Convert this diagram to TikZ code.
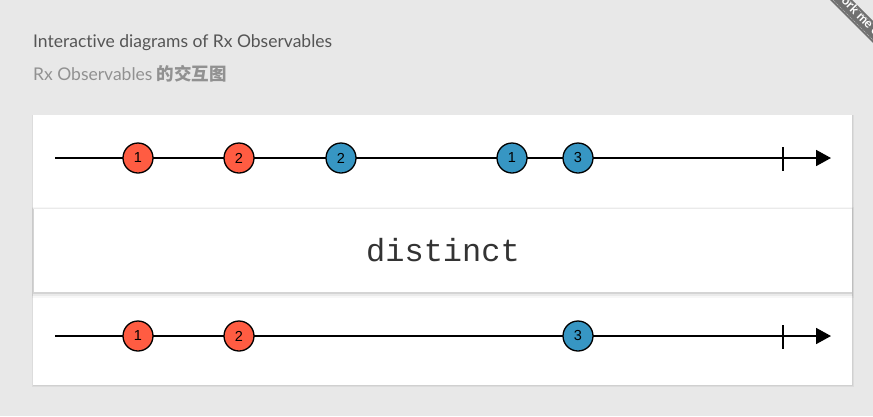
\documentclass[tikz,border=0pt]{standalone}
\usepackage{fontspec}
\setmainfont{Lato}[Ligatures=NoCommon]
\newfontfamily\cjkfont{Noto Sans CJK SC}
\newfontfamily\monofont{Liberation Mono}
\newfontfamily\marblefont{Liberation Sans}
\usetikzlibrary{arrows.meta}
\definecolor{bgc}{RGB}{232,232,232}
\definecolor{headc}{RGB}{85,85,85}
\definecolor{subc}{RGB}{145,145,145}
\definecolor{redm}{RGB}{255,92,66}
\definecolor{bluem}{RGB}{55,150,195}
\definecolor{ribbonc}{RGB}{112,112,112}
\definecolor{opc}{RGB}{51,51,51}
\begin{document}
\begin{tikzpicture}[x=1pt,y=-1pt,
  marble/.style={circle,draw=black,line width=1.3pt,minimum size=30pt,inner sep=0pt,font=\marblefont\fontsize{14.5}{14.5}\selectfont},
  redmarble/.style={marble,fill=redm},
  bluemarble/.style={marble,fill=bluem},
  axisline/.style={line width=1.8pt,-{Triangle[length=15pt,width=16pt]}},
  tickline/.style={line width=1.5pt},
  panelshadow/.style={fill=black,opacity=0.05}]
\useasboundingbox (0,0) rectangle (873,416);
\clip (0,0) rectangle (873,416);
\fill[bgc] (0,0) rectangle (873,416);

% header
\node[anchor=base west,inner sep=0pt,text=headc,font=\fontsize{17.5}{17.5}\selectfont] (title) at (33,47) {Interactive diagrams of Rx Observables};
\node[anchor=base west,inner sep=0pt,text=subc,font=\fontsize{17.5}{17.5}\selectfont] (subtitle) at (33,80) {Rx Observables {\cjkfont\bfseries 的交互图}};

% panel with shadow
\fill[panelshadow] (32,114.5) rectangle (853.5,387);
\fill[panelshadow] (32.5,115) rectangle (853,386);
\fill[white] (33,115) rectangle (852,385);

% operator box with shadow
\fill[black,opacity=0.03] (31.5,207) rectangle (853.5,297.5);
\fill[black,opacity=0.05] (32.3,207.5) rectangle (852.8,295.5);
\fill[black,opacity=0.09] (33,208.5) rectangle (852.4,294);
\fill[white] (33.5,208.8) rectangle (852,292);
\node[font=\monofont\fontsize{32}{32}\selectfont,text=opc] (op) at (443,250) {distinct};

% input stream
\coordinate (inS) at (55,158);
\coordinate (inE) at (831,158);
\draw[axisline] (inS) -- (inE);
\coordinate (inT1) at (783,147);
\coordinate (inT2) at (783,171);
\draw[tickline] (inT1) -- (inT2);
\node[redmarble] (i1) at (138,158) {1};
\node[redmarble] (i2) at (239,158) {2};
\node[bluemarble] (i3) at (341,158) {2};
\node[bluemarble] (i4) at (512,158) {1};
\node[bluemarble] (i5) at (578,158) {3};

% output stream
\coordinate (outS) at (55,336);
\coordinate (outE) at (831,336);
\draw[axisline] (outS) -- (outE);
\coordinate (outT1) at (783,325);
\coordinate (outT2) at (783,349);
\draw[tickline] (outT1) -- (outT2);
\node[redmarble] (o1) at (138,336) {1};
\node[redmarble] (o2) at (239,336) {2};
\node[bluemarble] (o3) at (578,336) {3};

% ribbon
\fill[ribbonc] (830,0) -- (852,0) -- (873,21) -- (873,43) -- cycle;
\draw[white,opacity=0.5,line width=0.5pt,dash pattern=on 1pt off 1pt] (833,0) -- (873,40);
\draw[white,opacity=0.5,line width=0.5pt,dash pattern=on 1pt off 1pt] (849,0) -- (873,24);
\node[anchor=base west,rotate=-45,text=white,font=\fontsize{12.5}{12.5}\selectfont\bfseries,inner sep=0pt] (ribbon) at (836,-3) {Fork me on GitHub};
\end{tikzpicture}
\end{document}
